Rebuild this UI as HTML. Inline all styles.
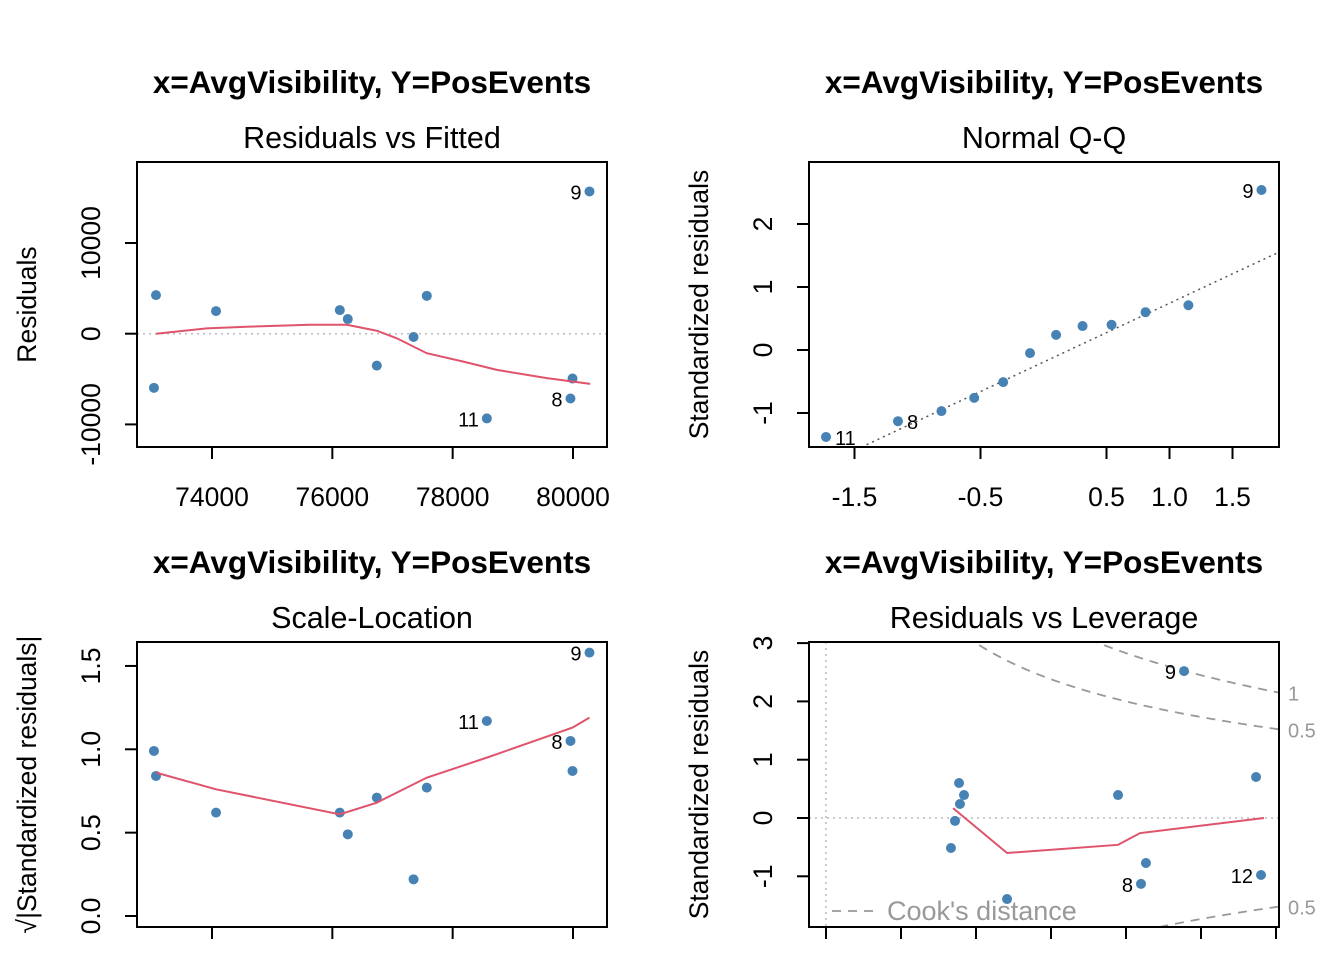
<!DOCTYPE html>
<html><head><meta charset="utf-8"><style>
html,body{margin:0;padding:0;background:#fff;overflow:hidden;}
svg{display:block;font-family:"Liberation Sans",Arial,sans-serif;}
</style></head><body>
<svg id="chart" width="1344" height="960" viewBox="0 0 1344 960" xmlns="http://www.w3.org/2000/svg"></svg>
<script>
// Panel 1: Residuals vs Fitted
const fitted = [73069,73035,74067,76124,76257,76739,77350,77570,78568,79992,79958,80274];
const residuals = [4253,-5967,2495,2604,1615,-3517,-363,4176,-9342,-4945,-7143,15683];
const rvfSmoothX = [73069,73911,74576,75629,76240,76739,77071,77570,78179,78735,79566,80286];
const rvfSmoothY = [0,593,769,989,989,330,-505,-2154,-3077,-3990,-4901,-5528];
const fitTicks = [74000,76000,78000,80000];
const fitTickLabels = ["74000","76000","78000","80000"];
const resTicks = [-10000,0,10000];
const resTickLabels = ["-10000","0","10000"];
const rvfLabels = [{i:8,t:"11"},{i:10,t:"8"},{i:11,t:"9"}];
// Panel 2: Normal Q-Q
const theoQ = [-1.726,-1.155,-0.81,-0.55,-0.32,-0.107,0.1,0.31,0.54,0.81,1.15,1.73];
const stdRes = [-1.38,-1.13,-0.97,-0.76,-0.51,-0.05,0.24,0.38,0.40,0.60,0.71,2.54];
const qqLine = [-0.192,0.934];
const qTicks = [-1.5,-0.5,0.5,1.0,1.5];
const qTickLabels = ["-1.5","-0.5","0.5","1.0","1.5"];
const sTicks = [-1,0,1,2];
const sTickLabels = ["-1","0","1","2"];
const qqLabels = [{i:0,t:"11",r:true},{i:1,t:"8",r:true},{i:11,t:"9"}];
// Panel 3: Scale-Location
const sqrtStdRes = [0.84,0.99,0.62,0.62,0.49,0.71,0.22,0.77,1.17,0.87,1.05,1.58];
const slSmoothX = [73069,74067,76124,76739,77570,78568,79992,80274];
const slSmoothY = [0.86,0.76,0.61,0.68,0.83,0.95,1.13,1.19];
const slTicks = [0,0.5,1.0,1.5];
const slTickLabels = ["0.0","0.5","1.0","1.5"];
const slLabels = [{i:8,t:"11"},{i:10,t:"8"},{i:11,t:"9"}];
// Panel 4: Residuals vs Leverage
const leverage = [0.0887,0.092,0.0893,0.086,0.0833,0.1207,0.1947,0.2133,0.21,0.2867,0.29,0.2387];
const levStdRes = [0.60,0.394,0.24,-0.05,-0.515,-1.39,0.394,-0.772,-1.13,0.703,-0.978,2.52];
const levSmoothX = [0.0847,0.1207,0.1947,0.2093,0.292];
const levSmoothY = [0.17,-0.6,-0.46,-0.26,0];
const levTicks = [0,0.05,0.1,0.15,0.2,0.25,0.3];
const lsTicks = [-1,0,1,2,3];
const lsTickLabels = ["-1","0","1","2","3"];
const cookLevels = [0.5,1];
const levLabels = [{i:8,t:"8"},{i:10,t:"12"},{i:11,t:"9"}];

const NS="http://www.w3.org/2000/svg";
const svg=document.getElementById('chart');
function el(tag,attrs,parent){const e=document.createElementNS(NS,tag);for(const k in attrs)e.setAttribute(k,attrs[k]);(parent||svg).appendChild(e);return e;}
function lin(d0,d1,r0,r1){return v=>r0+(v-d0)*(r1-r0)/(d1-d0);}
function txt(x,y,s,attrs,parent){const t=el('text',Object.assign({x:x,y:y},attrs),parent);t.textContent=s;return t;}

function panel(cfg){
  const g=el('g',{});
  
  
  const L=cfg.box[0],T=cfg.box[1],R=cfg.box[2],B=cfg.box[3];
  const cx=(L+R)/2;
  const t1=txt(cx,T-69,"x=AvgVisibility, Y=PosEvents",{'text-anchor':'middle','font-size':'31.5','font-weight':'bold'},g);
  
  const t2=txt(cx,T-14,cfg.sub,{'text-anchor':'middle','font-size':'30.5'},g);
  
  const x=cfg.x,y=cfg.y;
  const cid='clip'+cfg.name;
  const cp=el('clipPath',{id:cid},g);el('rect',{x:L,y:T,width:R-L,height:B-T},cp);
  const inner=el('g',{'clip-path':'url(#'+cid+')'},g);
  if(cfg.draw)cfg.draw(inner,x,y,L,T,R,B);
  cfg.px.forEach((v,i)=>{const c=el('circle',{cx:x(v),cy:y(cfg.py[i]),r:5,fill:'#4682B4'},inner);
    });
  cfg.labels.forEach(l=>{const t=l.r?txt(x(cfg.px[l.i])+9,y(cfg.py[l.i])+8,l.t,{'text-anchor':'start','font-size':'20'},g)
      :txt(x(cfg.px[l.i])-8,y(cfg.py[l.i])+8,l.t,{'text-anchor':'end','font-size':'20'},g);
    });
  if(cfg.sx){const p=el('polyline',{points:cfg.sx.map((v,i)=>x(v)+','+y(cfg.sy[i])).join(' '),fill:'none',stroke:'#DF536B','stroke-width':2},inner);
    }
  const box=el('rect',{x:L,y:T,width:R-L,height:B-T,fill:'none',stroke:'#000','stroke-width':2},g);
  
  cfg.xt.forEach((v,i)=>{el('line',{x1:x(v),x2:x(v),y1:B,y2:B+12,stroke:'#000','stroke-width':2},g);
    if(cfg.xtl){const t=txt(x(v),B+59,cfg.xtl[i],{'text-anchor':'middle','font-size':'26.5'},g);
      }});
  cfg.yt.forEach((v,i)=>{el('line',{x1:L,x2:L-12,y1:y(v),y2:y(v),stroke:'#000','stroke-width':2},g);
    const tx=L-37;const t=txt(tx,y(v),cfg.ytl[i],{'text-anchor':'middle','font-size':'26.5',transform:'rotate(-90 '+tx+' '+y(v)+')'},g);
    });
  const yl=txt(L-101,(T+B)/2,cfg.ylab,{'text-anchor':'middle','font-size':'26.5',transform:'rotate(-90 '+(L-101)+' '+((T+B)/2)+')'},g);
  
}

const fx=lin(74000,80000,212,573);
panel({name:'residuals-vs-fitted',sub:'Residuals vs Fitted',box:[137,162,607,447],
  x:fx,y:lin(0,10000,333.7,243),px:fitted,py:residuals,sx:rvfSmoothX,sy:rvfSmoothY,
  xt:fitTicks,xtl:fitTickLabels,yt:resTicks,ytl:resTickLabels,ylab:'Residuals',labels:rvfLabels,
  draw:(g,x,y,L,T,R,B)=>{el('line',{x1:L,x2:R,y1:y(0),y2:y(0),stroke:'#bbb','stroke-width':1.5,'stroke-dasharray':'2,4'},g);}});

panel({name:'normal-qq',sub:'Normal Q-Q',box:[809,162,1279,447],
  x:lin(0,1,1043.5,1169.5),y:lin(0,1,350,287),px:theoQ,py:stdRes,
  xt:qTicks,xtl:qTickLabels,yt:sTicks,ytl:sTickLabels,ylab:'Standardized residuals',labels:qqLabels,
  draw:(g,x,y)=>{const a=qqLine[0],b=qqLine[1];const l=el('line',{x1:x(-3),y1:y(a+b*-3),x2:x(3),y2:y(a+b*3),stroke:'#555','stroke-width':1.5,'stroke-dasharray':'2,4'},g);
    }});

panel({name:'scale-location',sub:'Scale-Location',box:[137,642,607,927],
  x:fx,y:lin(0,1,916,749.3),px:fitted,py:sqrtStdRes,sx:slSmoothX,sy:slSmoothY,
  xt:fitTicks,xtl:null,yt:slTicks,ytl:slTickLabels,ylab:'√|Standardized residuals|',labels:slLabels});

panel({name:'residuals-vs-leverage',sub:'Residuals vs Leverage',box:[809,642,1279,927],
  x:lin(0,0.05,826,901),y:lin(0,1,818,759.7),px:leverage,py:levStdRes,sx:levSmoothX,sy:levSmoothY,
  xt:levTicks,xtl:null,yt:lsTicks,ytl:lsTickLabels,ylab:'Standardized residuals',labels:levLabels,
  draw:(g,x,y,L,T,R,B)=>{
    el('line',{x1:L,x2:R,y1:y(0),y2:y(0),stroke:'#bbb','stroke-width':1.5,'stroke-dasharray':'2,4'},g);
    el('line',{x1:x(0),x2:x(0),y1:T,y2:B,stroke:'#bbb','stroke-width':1.5,'stroke-dasharray':'2,4'},g);
    cookLevels.forEach(c=>{[1,-1].forEach(sg=>{const pts=[];for(let h=0.01;h<=0.31;h+=0.002){pts.push(x(h)+','+y(sg*Math.sqrt(c*2*(1-h)/h)));}
      const p=el('polyline',{points:pts.join(' '),fill:'none',stroke:'#999','stroke-width':1.8,'stroke-dasharray':'9,7'},g);
      });});
    el('line',{x1:832,x2:875,y1:911,y2:911,stroke:'#999','stroke-width':1.8,'stroke-dasharray':'9,7'},svg);
    const t=txt(887,920,"Cook's distance",{'font-size':'27',fill:'#999'},svg);
    
    const hR=(R-826)/1500;
    cookLevels.forEach(c=>{const v=Math.sqrt(c*2*(1-hR)/hR);
      [[v,1],[-v,-1]].forEach(([yy,s])=>{if(c===1&&s<0)return;const t2=txt(R+9,y(yy)+8,String(c),{'font-size':'20',fill:'#999'},svg);
        });});
  }});
</script>
</body></html>
